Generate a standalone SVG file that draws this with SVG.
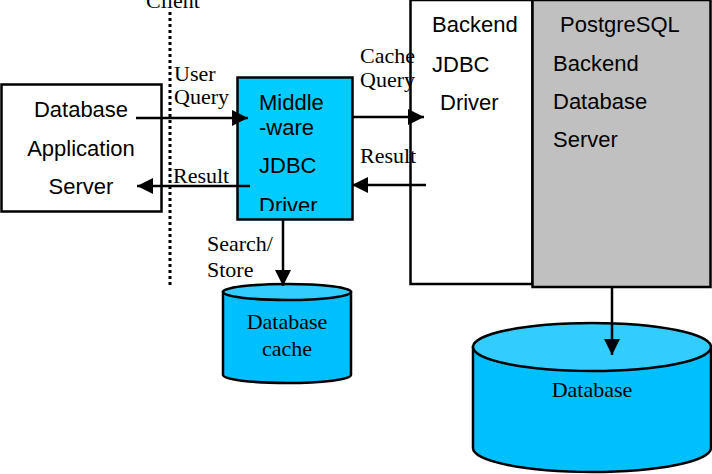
<svg xmlns="http://www.w3.org/2000/svg" width="712" height="474" viewBox="0 0 712 474">
<style>
.box{stroke:#000;stroke-width:2.5}
.sans{font-family:"Liberation Sans",Arial,sans-serif;font-size:22px;fill:#000}
.serif{font-family:"Liberation Serif","Times New Roman",serif;font-size:22px;fill:#000}
.ln{stroke:#000;stroke-width:2.5;fill:none}
.body{fill:#00bfff;stroke:#000;stroke-width:2.5}
.top{fill:#33ccff;stroke:#000;stroke-width:2.5}
</style>
<defs>
<marker id="ah" viewBox="0 0 16 16" refX="16" refY="8" markerWidth="16" markerHeight="16" markerUnits="userSpaceOnUse" orient="auto">
<path d="M0,0 L16,8 L0,16 Z" fill="#000"/>
</marker>
<clipPath id="mwclip"><rect x="237" y="77" width="116" height="134"/></clipPath>
</defs>
<rect width="712" height="474" fill="#fff"/>

<g id="client-line">
<line x1="170" y1="12" x2="170" y2="288" stroke="#000" stroke-width="3" stroke-dasharray="3,3"/>
<text class="serif" x="173" y="8" text-anchor="middle">Client</text>
</g>

<g id="app-server">
<rect class="box" x="1.5" y="84.5" width="160" height="127" fill="#fff"/>
<text class="sans" x="81" y="117" text-anchor="middle">Database</text>
<text class="sans" x="81" y="156" text-anchor="middle">Application</text>
<text class="sans" x="81" y="194" text-anchor="middle">Server</text>
</g>

<g id="middleware">
<rect class="box" x="237.5" y="77.5" width="115" height="142" fill="#00ccff"/>
<g clip-path="url(#mwclip)">
<text class="sans" x="259" y="110">Middle</text>
<text class="sans" x="259" y="135">-ware</text>
<text class="sans" x="259" y="173">JDBC</text>
<text class="sans" x="259" y="213">Driver</text>
</g>
</g>

<g id="backend-jdbc">
<rect class="box" x="410.5" y="0" width="122" height="284" fill="#fff"/>
<text class="sans" x="432" y="32">Backend</text>
<text class="sans" x="432" y="72">JDBC</text>
<text class="sans" x="440" y="110">Driver</text>
</g>

<g id="postgres">
<rect class="box" x="532.5" y="0" width="178" height="287" fill="#c0c0c0"/>
<text class="sans" x="560" y="32">PostgreSQL</text>
<text class="sans" x="553" y="71">Backend</text>
<text class="sans" x="553" y="109">Database</text>
<text class="sans" x="553" y="147">Server</text>
</g>

<g id="db-cache">
<path class="body" d="M223,292 L223,375 A64,8 0 0 0 351,375 L351,292 Z"/>
<ellipse class="top" cx="287" cy="292" rx="64" ry="8"/>
<text class="serif" x="287" y="329" text-anchor="middle">Database</text>
<text class="serif" x="287" y="356" text-anchor="middle">cache</text>
</g>

<g id="database">
<path class="body" d="M473,347 L473,448 A119,24 0 0 0 711,448 L711,347 Z"/>
<ellipse class="top" cx="592" cy="347" rx="119" ry="24"/>
<text class="serif" x="592" y="397" text-anchor="middle">Database</text>
</g>

<g id="connectors">
<line class="ln" x1="136" y1="118" x2="248" y2="118" marker-end="url(#ah)"/>
<line class="ln" x1="250" y1="186" x2="137" y2="186" marker-end="url(#ah)"/>
<line class="ln" x1="353" y1="117" x2="424" y2="117" marker-end="url(#ah)"/>
<line class="ln" x1="426" y1="185" x2="352" y2="185" marker-end="url(#ah)"/>
<line class="ln" x1="283" y1="220" x2="283" y2="286" marker-end="url(#ah)"/>
<line class="ln" x1="612" y1="287" x2="612" y2="355" marker-end="url(#ah)"/>
<text class="serif" x="174" y="81">User</text>
<text class="serif" x="174" y="104">Query</text>
<text class="serif" x="173" y="183">Result</text>
<text class="serif" x="360" y="63">Cache</text>
<text class="serif" x="360" y="87">Query</text>
<text class="serif" x="360" y="163">Result</text>
<text class="serif" x="207" y="251">Search/</text>
<text class="serif" x="207" y="277">Store</text>
</g>
</svg>
